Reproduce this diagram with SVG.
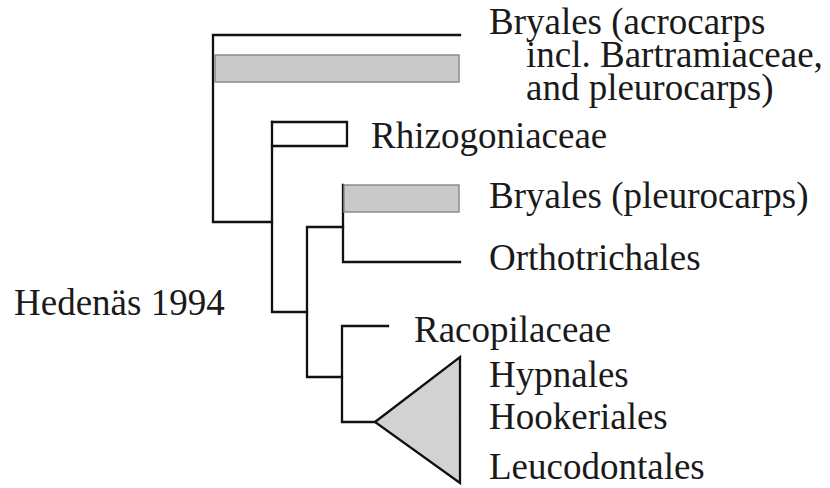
<svg xmlns="http://www.w3.org/2000/svg" width="830" height="488" viewBox="0 0 830 488">
<style>
.t{font-family:"Liberation Serif","Times New Roman",serif;font-size:37px;fill:#1a1a1a}
.ln{fill:none;stroke:#111;stroke-width:2.3;stroke-linecap:square}
.bar{fill:#c9c9c9;stroke:#8c8c8c;stroke-width:1.5}
.tri{fill:#d2d2d2;stroke:#111;stroke-width:2.3;stroke-linejoin:miter}
</style>
<rect width="830" height="488" fill="#ffffff"/>
<g id="connectors">
<path class="ln" d="M213,35 H460 M213,35 V222 H272"/>
<path class="ln" d="M272,122 V312 H307"/>
<path class="ln" d="M272,122 H347 V146 H272"/>
<path class="ln" d="M307,227 V377 H342 M307,227 H343"/>
<path class="ln" d="M343,185 V262 H460"/>
<path class="ln" d="M342,326 V422 H375 M342,326 H388"/>
</g>
<g id="bryales-acrocarps">
<rect class="bar" x="215" y="55" width="244" height="27"/>
<text class="t" x="489" y="34">Bryales (acrocarps</text>
<text class="t" x="526" y="67">incl. Bartramiaceae,</text>
<text class="t" x="526" y="100">and pleurocarps)</text>
</g>
<g id="rhizogoniaceae">
<text class="t" x="371" y="148">Rhizogoniaceae</text>
</g>
<g id="bryales-pleurocarps">
<rect class="bar" x="344" y="185" width="115" height="27"/>
<text class="t" x="489" y="208">Bryales (pleurocarps)</text>
</g>
<g id="orthotrichales">
<text class="t" x="489" y="270">Orthotrichales</text>
</g>
<g id="hedenas">
<text class="t" x="14" y="315">Hedenäs 1994</text>
</g>
<g id="racopilaceae">
<text class="t" x="414" y="342">Racopilaceae</text>
</g>
<g id="hypnales-clade">
<polygon class="tri" points="375,422 460,357 460,483"/>
<text class="t" x="489" y="387">Hypnales</text>
<text class="t" x="489" y="429">Hookeriales</text>
<text class="t" x="489" y="479">Leucodontales</text>
</g>
</svg>
